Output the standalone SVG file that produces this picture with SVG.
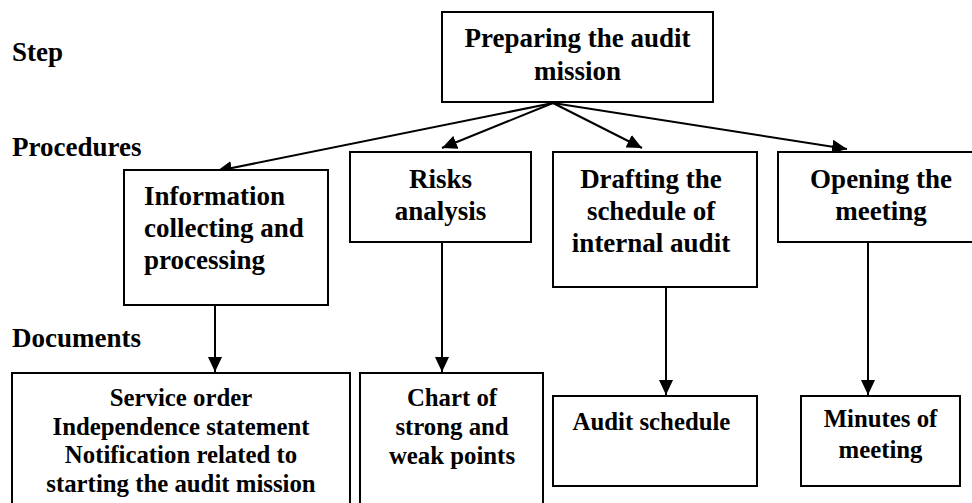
<svg xmlns="http://www.w3.org/2000/svg" width="972" height="503" viewBox="0 0 972 503">
<defs>
<style>
.box{fill:#fff;stroke:#000;stroke-width:2}
.t{font-family:"Liberation Serif","Times New Roman",serif;font-weight:bold;fill:#000}
.h{font-size:27px}
.d{font-size:24.8px}
.c{text-anchor:middle}
.ln{stroke:#000;stroke-width:2;fill:none}
</style>
<marker id="ah" markerUnits="userSpaceOnUse" markerWidth="16" markerHeight="14" refX="15" refY="7" orient="auto">
<path d="M0,0 L15,7 L0,14 z" fill="#000"/>
</marker>
</defs>
<rect width="972" height="503" fill="#fff"/>
<g id="labels">
<text class="t h" x="12" y="61">Step</text>
<text class="t h" x="12" y="156">Procedures</text>
<text class="t h" x="12" y="347">Documents</text>
</g>
<g id="connectors">
<line class="ln" x1="553" y1="103" x2="217" y2="171" marker-end="url(#ah)"/>
<line class="ln" x1="553" y1="103" x2="442" y2="148" marker-end="url(#ah)"/>
<line class="ln" x1="553" y1="103" x2="642" y2="148" marker-end="url(#ah)"/>
<line class="ln" x1="553" y1="103" x2="847" y2="149" marker-end="url(#ah)"/>
<line class="ln" x1="215" y1="305" x2="215" y2="372" marker-end="url(#ah)"/>
<line class="ln" x1="442" y1="237" x2="442" y2="372" marker-end="url(#ah)"/>
<line class="ln" x1="666" y1="283" x2="666" y2="395" marker-end="url(#ah)"/>
<line class="ln" x1="868" y1="237" x2="868" y2="395" marker-end="url(#ah)"/>
</g>
<g id="node-preparing">
<rect class="box" x="442" y="12" width="271" height="90"/>
<text class="t h c" x="577.5" y="47">Preparing the audit</text>
<text class="t h c" x="577.5" y="80">mission</text>
</g>
<g id="node-information">
<rect class="box" x="124" y="170" width="204" height="135"/>
<text class="t h" x="144" y="205">Information</text>
<text class="t h" x="144" y="237">collecting and</text>
<text class="t h" x="144" y="269">processing</text>
</g>
<g id="node-risks">
<rect class="box" x="350" y="152" width="181" height="90"/>
<text class="t h c" x="440.5" y="188">Risks</text>
<text class="t h c" x="440.5" y="220">analysis</text>
</g>
<g id="node-drafting">
<rect class="box" x="553" y="152" width="204" height="135"/>
<text class="t h c" x="651" y="188">Drafting the</text>
<text class="t h c" x="651" y="220">schedule of</text>
<text class="t h c" x="651" y="252">internal audit</text>
</g>
<g id="node-opening">
<rect class="box" x="778" y="152" width="210" height="90"/>
<text class="t h c" x="881" y="188">Opening the</text>
<text class="t h c" x="881" y="220">meeting</text>
</g>
<g id="node-service">
<rect class="box" x="12" y="373" width="338" height="140"/>
<text class="t d c" x="181" y="406">Service order</text>
<text class="t d c" x="181" y="435">Independence statement</text>
<text class="t d c" x="181" y="463">Notification related to</text>
<text class="t d c" x="181" y="492">starting the audit mission</text>
</g>
<g id="node-chart">
<rect class="box" x="360" y="373" width="183" height="140"/>
<text class="t d c" x="452" y="406">Chart of</text>
<text class="t d c" x="452" y="435">strong and</text>
<text class="t d c" x="452" y="464">weak points</text>
</g>
<g id="node-audit-schedule">
<rect class="box" x="553" y="396" width="204" height="90"/>
<text class="t d c" x="651.5" y="430">Audit schedule</text>
</g>
<g id="node-minutes">
<rect class="box" x="801" y="396" width="159" height="90"/>
<text class="t d c" x="880.5" y="427">Minutes of</text>
<text class="t d c" x="880.5" y="458">meeting</text>
</g>
</svg>
